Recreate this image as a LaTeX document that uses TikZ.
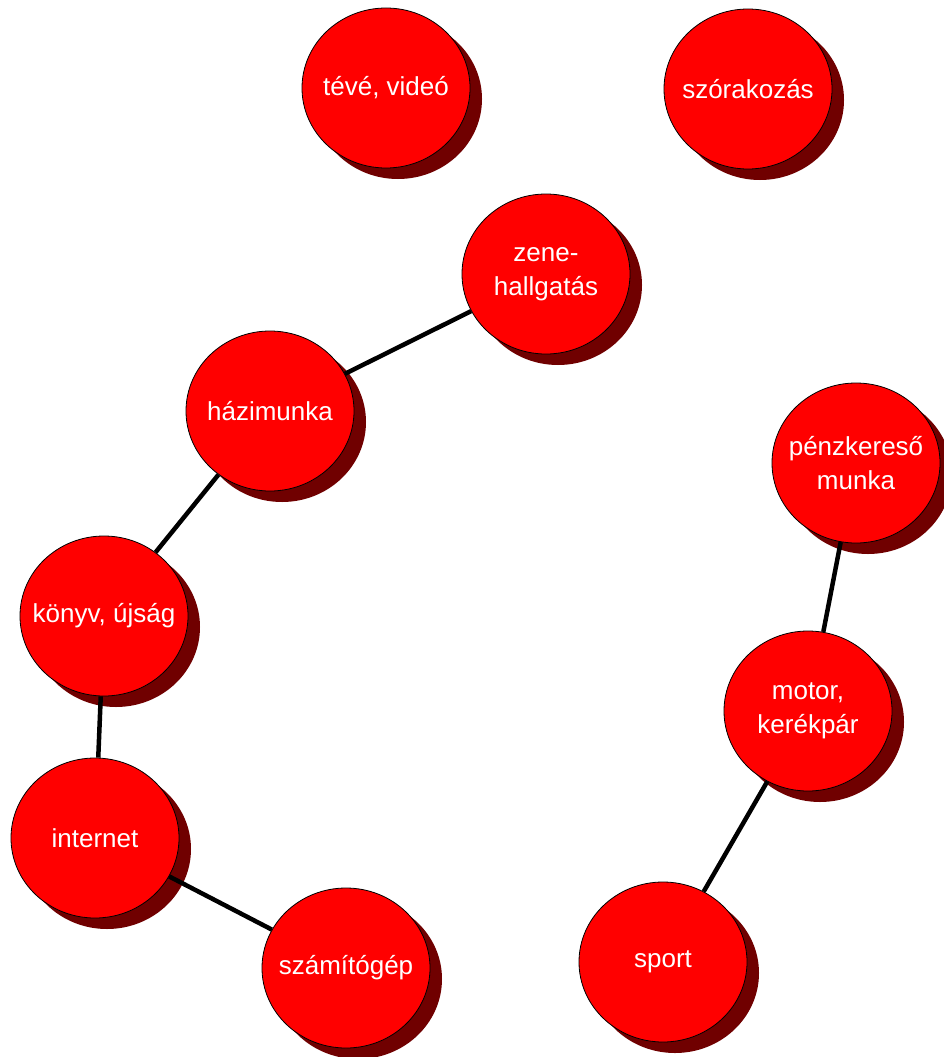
\documentclass[tikz,border=0pt]{standalone}
\usepackage{fontspec}
\setmainfont{Liberation Sans}
\usetikzlibrary{shapes.geometric,shadows}
\definecolor{ballred}{RGB}{255,0,0}
\definecolor{shadowred}{RGB}{112,0,0}
\newcommand{\ztext}[1]{\makebox[0pt][c]{#1}}
\tikzset{
  ball/.style={ellipse, draw=black, line width=0.8pt, fill=ballred,
    minimum width=168pt, minimum height=160pt, inner sep=0pt,
    text=white, align=center, font=\fontsize{26}{34}\selectfont,
    drop shadow={shadow xshift=12pt, shadow yshift=-11pt, fill=shadowred, opacity=1, draw=none}},
  link/.style={line width=4.5pt, black}
}
\begin{document}
\begin{tikzpicture}[x=1pt,y=-1pt]
\useasboundingbox (0,0) rectangle (943,1057);
\node[ball] (teve) at (386,88) {\ztext{tévé, videó}};
\node[ball] (szor) at (748,89) {\ztext{szórakozás}};
\node[ball] (zene) at (546,274) {\ztext{zene-}\\\ztext{hallgatás}};
\node[ball] (hazi) at (270,411) {\ztext{házimunka}};
\node[ball] (konyv) at (104,616) {\ztext{könyv, újság}};
\node[ball] (inet) at (95,838) {\ztext{internet}};
\node[ball] (szam) at (346,968) {\ztext{számítógép}};
\node[ball] (penz) at (856,463) {\ztext{pénzkereső}\\\ztext{munka}};
\node[ball] (motor) at (808,711) {\ztext{motor,}\\\ztext{kerékpár}};
\node[ball] (sport) at (663,962) {\ztext{sport}};
\draw[link] (zene) -- (hazi);
\draw[link] (hazi) -- (konyv);
\draw[link] (konyv) -- (inet);
\draw[link] (inet) -- (szam);
\draw[link] (penz) -- (motor);
\draw[link] (motor) -- (sport);
\end{tikzpicture}
\end{document}
